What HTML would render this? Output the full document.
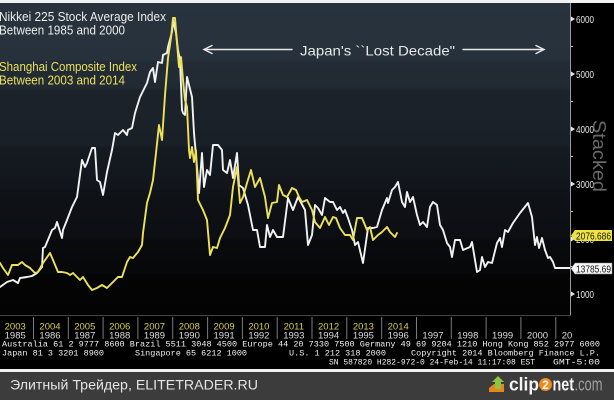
<!DOCTYPE html>
<html><head><meta charset="utf-8"><style>
html,body{margin:0;padding:0;background:#000;}
svg{display:block;}
</style></head><body>
<svg width="614" height="400" viewBox="0 0 614 400" xmlns="http://www.w3.org/2000/svg">
<defs>
<linearGradient id="bg" gradientUnits="userSpaceOnUse" x1="0" y1="3" x2="0" y2="315">
<stop offset="0" stop-color="#29333d"/>
<stop offset="0.183" stop-color="#27313b"/>
<stop offset="0.189" stop-color="#232c36"/>
<stop offset="0.272" stop-color="#212932"/>
<stop offset="0.279" stop-color="#1c232b"/>
<stop offset="0.455" stop-color="#192028"/>
<stop offset="0.465" stop-color="#151a21"/>
<stop offset="0.593" stop-color="#12161c"/>
<stop offset="0.606" stop-color="#0f1217"/>
<stop offset="0.753" stop-color="#0c0e12"/>
<stop offset="0.766" stop-color="#090a0d"/>
<stop offset="0.862" stop-color="#07080a"/>
<stop offset="0.872" stop-color="#040405"/>
<stop offset="1" stop-color="#030303"/>
</linearGradient>
<clipPath id="pc"><rect x="0" y="3" width="570" height="312"/></clipPath>
<clipPath id="yc"><rect x="0" y="316" width="572" height="30"/></clipPath>
</defs>

<rect x="0" y="0" width="614" height="400" fill="#000"/>
<rect x="0" y="0" width="614" height="3" fill="#f2f2f2"/>
<rect x="0" y="3" width="570" height="312" fill="url(#bg)"/>

<!-- axis -->
<line x1="570.5" y1="3" x2="570.5" y2="315" stroke="#9a9a9a" stroke-width="1"/>
<line x1="0" y1="315.5" x2="571" y2="315.5" stroke="#444" stroke-width="1"/>

<!-- right ticks -->
<g fill="#e6e6e6" font-family="Liberation Sans, sans-serif" font-size="10.5">
<polygon points="571,16.5 575,19 571,21.5"/><text x="576" y="23" textLength="18" lengthAdjust="spacingAndGlyphs">6000</text>
<polygon points="571,71.5 575,74 571,76.5"/><text x="576" y="78" textLength="18" lengthAdjust="spacingAndGlyphs">5000</text>
<polygon points="571,126.5 575,129 571,131.5"/><text x="576" y="133" textLength="18" lengthAdjust="spacingAndGlyphs">4000</text>
<polygon points="571,181.5 575,184 571,186.5"/><text x="576" y="188" textLength="18" lengthAdjust="spacingAndGlyphs">3000</text>
<polygon points="571,236.5 575,239 571,241.5"/><text x="576" y="243" textLength="18" lengthAdjust="spacingAndGlyphs">2000</text>
<polygon points="571,291.5 575,294 571,296.5"/><text x="576" y="298" textLength="18" lengthAdjust="spacingAndGlyphs">1000</text>
</g>
<g stroke="#bbb" stroke-width="1">
<line x1="571" y1="46.5" x2="573" y2="46.5"/>
<line x1="571" y1="101.5" x2="573" y2="101.5"/>
<line x1="571" y1="156.5" x2="573" y2="156.5"/>
<line x1="571" y1="211.5" x2="573" y2="211.5"/>
<line x1="571" y1="266.5" x2="573" y2="266.5"/>
</g>

<!-- Stacked -->
<text transform="translate(593,120) rotate(90)" x="0" y="0" font-family="Liberation Sans, sans-serif" font-size="18" fill="#686868" textLength="72" lengthAdjust="spacingAndGlyphs">Stacked</text>

<!-- series -->
<g clip-path="url(#pc)" fill="none" stroke-linejoin="round" stroke-linecap="round">
<polyline stroke="#f2f2f2" stroke-width="1.9" points="0,287 7,282 13,280 18,283 20,278 27,277 32,276 37,273 42,267 43,248 45,247 50,235 52,230 55,228 57,222 62,238 63,230 67,220 72,207 77,197 82,160 85,167 87,163 92,148 95,148 97,180 100,182 103,195 107,172 112,150 115,133 118,135 123,130 127,135 128,130 132,128 135,113 140,97 147,83 150,72 153,68 155,82 158,62 162,63 163,55 167,53 168,47 172,32 173,20 176,33 178,50 180,60 182,110 183,113 185,115 187,77 189,85 192,97 194,133 197,167 199,193 202,153 204,187 207,170 210,175 213,145 218,145 222,150 223,170 227,173 230,160 233,178 237,153 239,185 243,188 248,205 253,230 257,230 260,247 265,247 267,225 270,237 273,230 277,237 283,237 288,198 293,210 298,197 305,210 308,245 312,235 315,205 318,208 322,215 325,198 330,202 333,202 337,210 340,207 343,213 345,210 348,218 352,230 355,245 358,242 363,263 368,228 373,228 377,227 382,210 387,198 388,203 392,190 395,187 398,182 402,202 405,207 407,192 410,202 413,197 417,215 420,225 423,222 427,227 430,207 433,202 437,205 440,225 443,230 447,243 450,247 452,257 455,240 460,240 463,250 470,247 472,242 475,260 477,272 480,270 482,257 485,267 488,262 492,263 497,243 500,238 502,247 505,230 508,232 513,223 520,213 528,203 532,217 535,245 537,237 539,248 542,238 545,250 548,258 550,257 553,262 555,268 570,268"/>
<polyline stroke="#ece25a" stroke-width="1.9" points="0,263 3,268 8,275 12,265 18,265 22,262 25,265 30,268 35,273 38,272 43,263 50,253 53,260 58,272 62,272 67,273 70,275 73,273 80,280 83,277 88,285 92,290 97,288 102,285 107,288 110,285 115,280 118,277 122,277 127,262 130,257 133,258 138,252 142,245 143,233 147,203 150,193 153,180 156,153 159,125 162,140 165,95 168,58 171,38 173,18 175,18 177,43 179,67 181,57 183,80 185,100 187,107 189,150 190,158 192,147 194,162 196,150 198,200 203,210 207,220 210,255 213,247 217,248 220,238 225,228 230,215 233,187 237,167 240,203 243,197 247,183 251,170 255,187 260,178 265,197 268,218 272,203 277,202 279,185 283,195 287,197 292,188 296,190 299,197 302,202 307,200 312,210 315,222 320,228 325,217 329,225 333,217 336,218 340,228 345,235 350,235 353,240 357,218 362,218 367,230 370,227 373,240 378,235 382,232 387,227 390,232 395,237 397,233"/>
</g>

<!-- value labels -->
<polygon points="571,235.5 575,230 612,230 612,241 575,241" fill="#f0e43c"/>
<text x="576" y="239.5" font-family="Liberation Sans, sans-serif" font-size="10" fill="#111" textLength="35" lengthAdjust="spacingAndGlyphs">2076.686</text>
<polygon points="571,268.5 575,263 612,263 612,274 575,274" fill="#f6f6f6" stroke="#888" stroke-width="0.5"/>
<text x="576" y="272.5" font-family="Liberation Sans, sans-serif" font-size="10" fill="#111" textLength="35" lengthAdjust="spacingAndGlyphs">13785.69</text>

<!-- annotations -->
<g font-family="Liberation Sans, DejaVu Sans, sans-serif" font-size="12.5">
<text x="-1" y="21" fill="#ececec" textLength="167" lengthAdjust="spacingAndGlyphs">Nikkei 225 Stock Average Index</text>
<text x="-1" y="34.5" fill="#ececec" textLength="126" lengthAdjust="spacingAndGlyphs">Between 1985 and 2000</text>
<text x="-1" y="71" fill="#ebe15c" textLength="138" lengthAdjust="spacingAndGlyphs">Shanghai Composite Index</text>
<text x="-1" y="84.5" fill="#ebe15c" textLength="126" lengthAdjust="spacingAndGlyphs">Between 2003 and 2014</text>
</g>
<text x="300" y="55.5" font-family="Liberation Sans, DejaVu Sans, sans-serif" font-size="14" fill="#e8e8e8" textLength="155" lengthAdjust="spacingAndGlyphs">Japan's ``Lost Decade"</text>
<g stroke="#e8e8e8" stroke-width="1.4" fill="none" stroke-linecap="round">
<line x1="204" y1="49.5" x2="292" y2="49.5"/>
<polyline points="212,45.5 204,49.5 212,53.5"/>
<line x1="463" y1="49.5" x2="544" y2="49.5"/>
<polyline points="536,45.5 544,49.5 536,53.5"/>
</g>

<!-- year separators -->
<g stroke="#7c7c7c" stroke-width="1">
<line x1="33.5" y1="317" x2="33.5" y2="339"/>
<line x1="68.3" y1="317" x2="68.3" y2="339"/>
<line x1="103.1" y1="317" x2="103.1" y2="339"/>
<line x1="137.9" y1="317" x2="137.9" y2="339"/>
<line x1="172.7" y1="317" x2="172.7" y2="339"/>
<line x1="207.6" y1="317" x2="207.6" y2="339"/>
<line x1="242.4" y1="317" x2="242.4" y2="339"/>
<line x1="277.2" y1="317" x2="277.2" y2="339"/>
<line x1="312" y1="317" x2="312" y2="339"/>
<line x1="346.8" y1="317" x2="346.8" y2="339"/>
<line x1="381.7" y1="317" x2="381.7" y2="339"/>
<line x1="416.5" y1="317" x2="416.5" y2="339"/>
<line x1="451.3" y1="317" x2="451.3" y2="339"/>
<line x1="486.1" y1="317" x2="486.1" y2="339"/>
<line x1="520.9" y1="317" x2="520.9" y2="339"/>
<line x1="555.8" y1="317" x2="555.8" y2="339"/>
</g>

<!-- year labels -->
<g font-family="Liberation Sans, sans-serif" font-size="9.5" text-anchor="middle" clip-path="url(#yc)">
<g fill="#d9cf4a">
<text x="15.2" y="329.5">2003</text>
<text x="50" y="329.5">2004</text>
<text x="84.8" y="329.5">2005</text>
<text x="119.7" y="329.5">2006</text>
<text x="154.5" y="329.5">2007</text>
<text x="189.3" y="329.5">2008</text>
<text x="224.1" y="329.5">2009</text>
<text x="258.9" y="329.5">2010</text>
<text x="293.8" y="329.5">2011</text>
<text x="328.6" y="329.5">2012</text>
<text x="363.4" y="329.5">2013</text>
<text x="398.2" y="329.5">2014</text>
</g>
<g fill="#dcdcdc">
<text x="15.2" y="338.5">1985</text>
<text x="50" y="338.5">1986</text>
<text x="84.8" y="338.5">1987</text>
<text x="119.7" y="338.5">1988</text>
<text x="154.5" y="338.5">1989</text>
<text x="189.3" y="338.5">1990</text>
<text x="224.1" y="338.5">1991</text>
<text x="258.9" y="338.5">1992</text>
<text x="293.8" y="338.5">1993</text>
<text x="328.6" y="338.5">1994</text>
<text x="363.4" y="338.5">1995</text>
<text x="398.2" y="338.5">1996</text>
<text x="433" y="338.5">1997</text>
<text x="467.8" y="338.5">1998</text>
<text x="502.6" y="338.5">1999</text>
<text x="537.5" y="338.5">2000</text>
<text x="572.3" y="338.5">2001</text>
</g>
</g>

<!-- bloomberg footer text -->
<g font-family="Liberation Mono, monospace" font-size="8.5" fill="#f0f0f0">
<text x="2" y="346.5" textLength="598" lengthAdjust="spacingAndGlyphs">Australia 61 2 9777 8600 Brazil 5511 3048 4500 Europe 44 20 7330 7500 Germany 49 69 9204 1210 Hong Kong 852 2977 6000</text>
<text x="2" y="355.5" textLength="102" lengthAdjust="spacingAndGlyphs">Japan 81 3 3201 8900</text>
<text x="135" y="355.5" textLength="112" lengthAdjust="spacingAndGlyphs">Singapore 65 6212 1000</text>
<text x="289" y="355.5" textLength="97" lengthAdjust="spacingAndGlyphs">U.S. 1 212 318 2000</text>
<text x="411" y="355.5" textLength="189" lengthAdjust="spacingAndGlyphs">Copyright 2014 Bloomberg Finance L.P.</text>
<text x="329" y="364.5" textLength="206" lengthAdjust="spacingAndGlyphs">SN 587820 H282-972-0 24-Feb-14 11:17:08 EST</text>
<text x="553" y="364.5" textLength="47" lengthAdjust="spacingAndGlyphs">GMT-5:00</text>
</g>

<!-- page footer -->
<rect x="0" y="369" width="614" height="3" fill="#f0f0f0"/>
<rect x="0" y="372" width="614" height="28" fill="#3c3c3c"/>
<text x="10" y="389.5" font-family="Liberation Sans, DejaVu Sans, sans-serif" font-size="14" fill="#e4e4e4" textLength="248" lengthAdjust="spacingAndGlyphs">Элитный Трейдер, ELITETRADER.RU</text>

<!-- clip2net logo -->
<polygon points="489,388 494,384 504,384 504,392 489,392" fill="#e8861e"/>
<polygon points="498,376 504,382 501,382 501,389 495,389 495,382 492,382" fill="#8cc63e"/>
<text x="509" y="390.5" font-family="Liberation Sans, sans-serif" font-size="18" font-weight="bold" fill="#f4f4f4" textLength="30" lengthAdjust="spacingAndGlyphs">clip</text>
<circle cx="545.5" cy="384.5" r="6.5" fill="#f08a1c"/>
<text x="545.5" y="389" font-family="Liberation Sans, sans-serif" font-size="12" font-weight="bold" fill="#fff" text-anchor="middle">2</text>
<text x="552.5" y="390.5" font-family="Liberation Sans, sans-serif" font-size="18" font-weight="bold" fill="#f4f4f4" textLength="21.5" lengthAdjust="spacingAndGlyphs">net</text>
<text x="574.5" y="390.5" font-family="Liberation Sans, sans-serif" font-size="18" fill="#a0a0a0" textLength="28" lengthAdjust="spacingAndGlyphs">.com</text>
</svg>
</body></html>
